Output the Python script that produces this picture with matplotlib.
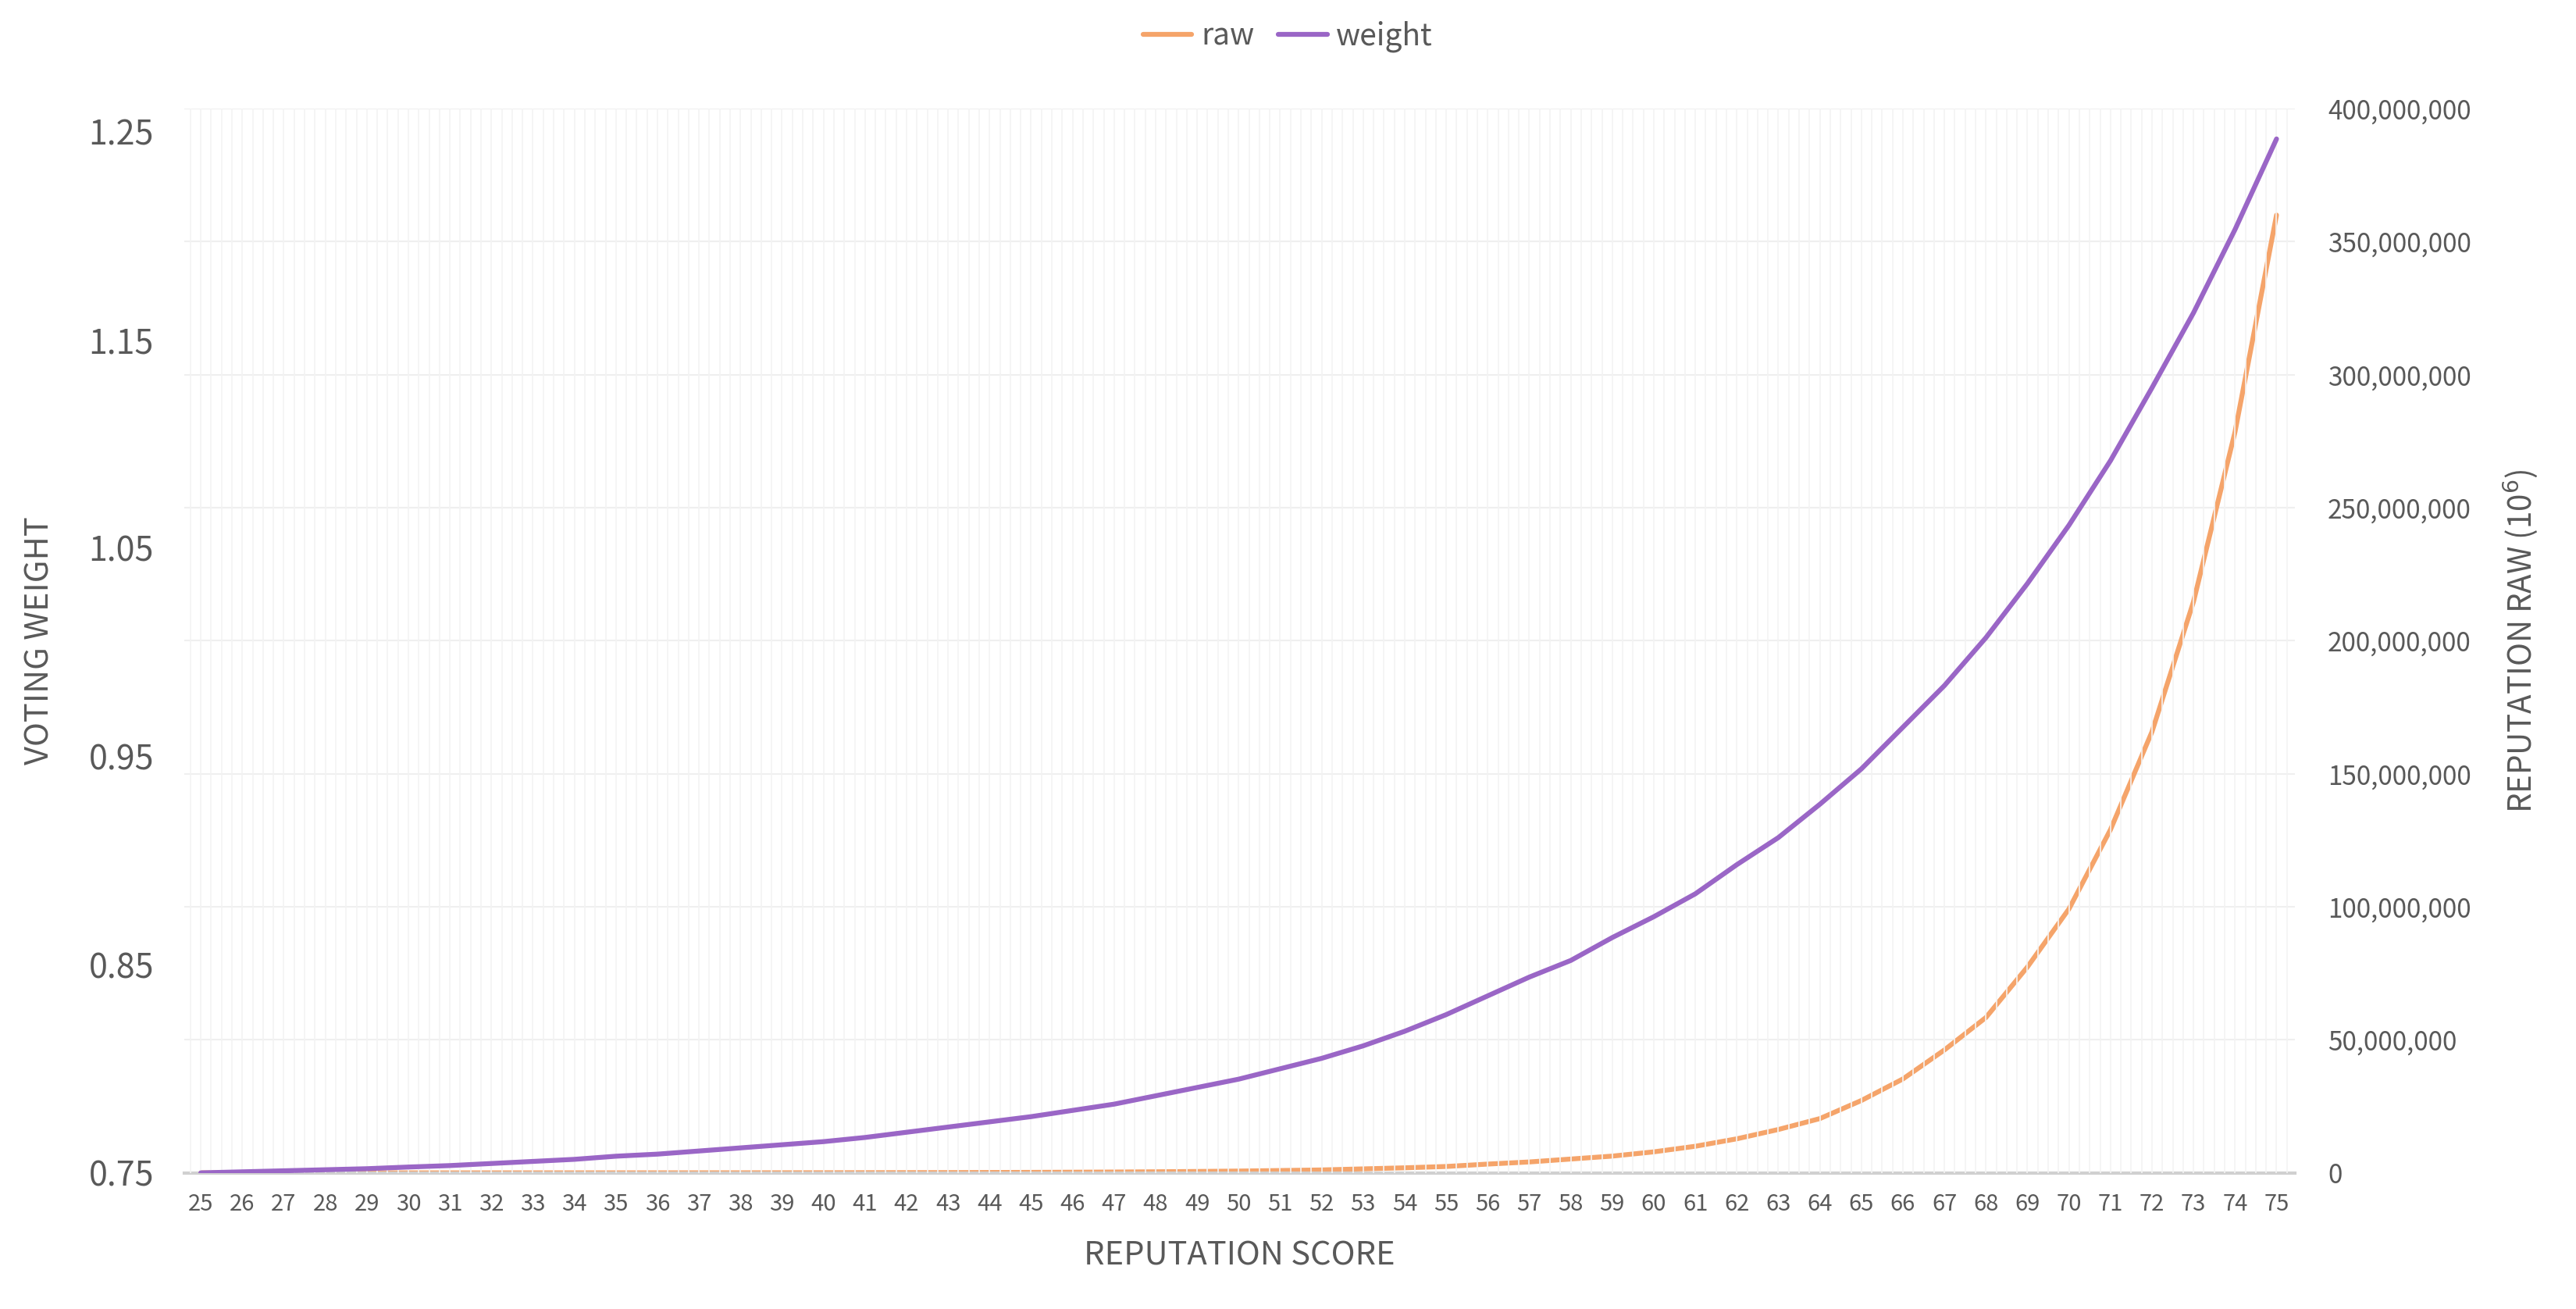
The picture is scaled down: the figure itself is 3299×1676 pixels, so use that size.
import matplotlib
matplotlib.use("Agg")
import matplotlib.pyplot as plt
from matplotlib.ticker import FuncFormatter, MultipleLocator

plt.rcParams['font.family'] = ['Noto Sans CJK KR', 'DejaVu Sans']

scores = list(range(25, 76))
weight = [0.750, 0.7505, 0.751, 0.7515, 0.752, 0.7528, 0.7535, 0.7545, 0.7555, 0.7565,
          0.758, 0.759, 0.7605, 0.762, 0.7635, 0.765, 0.767, 0.7695, 0.772, 0.7745,
          0.777, 0.780, 0.783, 0.787, 0.791, 0.795, 0.800, 0.805, 0.811, 0.818,
          0.826, 0.835, 0.844, 0.852, 0.863, 0.873, 0.884, 0.898, 0.911,
          0.927, 0.944, 0.964, 0.984, 1.007, 1.033, 1.061, 1.092, 1.127, 1.163,
          1.203, 1.2465]
raw_millions = [0.001, 0.0015, 0.002, 0.0025, 0.003, 0.004, 0.005, 0.007, 0.009, 0.011,
                0.015, 0.019, 0.025, 0.03, 0.04, 0.05, 0.07, 0.09, 0.11, 0.15,
                0.19, 0.25, 0.32, 0.41, 0.53, 0.68, 0.88, 1.1, 1.5, 1.9,
                2.4, 3.3, 4.1, 5.2, 6.3, 7.9, 10.0, 12.8, 16.3, 20.4,
                27.2, 35.3, 46.2, 58.4, 77.4, 99.2, 129.0, 165.8, 214.7, 278.5, 360.0]
raw = [v * 1e6 for v in raw_millions]

ORANGE = '#f5a46a'
PURPLE = '#9a66c6'
TXT = '#595959'

fig = plt.figure(figsize=(32.99, 16.76), dpi=100)
ax = fig.add_axes([0.0715, 0.104, 0.8195, 0.813])
ax2 = ax.twinx()
ax.set_zorder(ax2.get_zorder() + 1)
ax.patch.set_visible(False)

ax2.plot(scores, raw, color=ORANGE, lw=4.5, label='raw', solid_capstyle='round')
ax.plot(scores, weight, color=PURPLE, lw=4.5, label='weight', solid_capstyle='round')

ax.set_xlim(24.6, 75.45)
ax.set_ylim(0.75, 0.75 + 0.5 * 648 / 634)
ax2.set_ylim(0, 400e6)
ax.set_yticks([0.75, 0.85, 0.95, 1.05, 1.15, 1.25])
ax.yaxis.set_major_formatter(FuncFormatter(lambda v, p: f"{v:.2f}"))
ax2.set_yticks(range(0, 400000001, 50000000))
ax2.yaxis.set_major_formatter(FuncFormatter(lambda v, p: f"{int(v):,}"))
ax.set_xticks(scores)
ax.set_xticklabels([str(s) for s in scores])

ax2.grid(axis='y', color='#efefef', lw=1.5)
ax.xaxis.set_minor_locator(MultipleLocator(0.25))
ax.grid(axis='x', which='both', color='#f3f3f3', lw=1.2)
ax2.set_axisbelow(True)

for a in (ax, ax2):
    for s in a.spines.values():
        s.set_visible(False)
    a.tick_params(length=0, which='both')
ax2.spines['bottom'].set_visible(True)
ax2.spines['bottom'].set_color('#d0d0d0')
ax2.spines['bottom'].set_linewidth(3)

ax.tick_params(axis='y', labelsize=31, labelcolor=TXT, pad=28)
ax.tick_params(axis='x', labelsize=21, labelcolor=TXT, pad=18)
ax2.tick_params(axis='y', labelsize=24, labelcolor=TXT, pad=30)

ax.set_xlabel('REPUTATION SCORE', fontsize=30, color=TXT, labelpad=22)
ax.set_ylabel('VOTING WEIGHT', fontsize=30, color=TXT, labelpad=30)
ax2.set_ylabel('REPUTATION RAW (10$^6$)', fontsize=29, color=TXT, labelpad=28)

h1, l1 = ax2.get_legend_handles_labels()
h2, l2 = ax.get_legend_handles_labels()
fig.legend(h1 + h2, l1 + l2, loc='upper center', bbox_to_anchor=(0.5, 1.005), ncol=2,
           frameon=False, fontsize=28, labelcolor=TXT, handlelength=1.6,
           handletextpad=0.3, columnspacing=0.8)

fig.savefig('out.png', dpi=100)
